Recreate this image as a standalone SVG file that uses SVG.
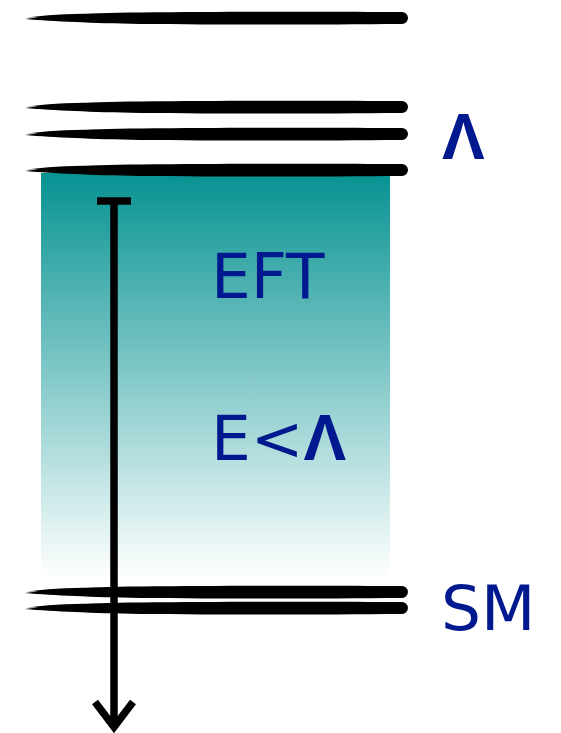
<svg xmlns="http://www.w3.org/2000/svg" width="561" height="733" viewBox="0 0 561 733">
<style>
.lbl{font-family:"DejaVu Sans","Liberation Sans",sans-serif;font-size:63px;fill:#00198f}
.lam{font-family:"Liberation Sans","DejaVu Sans",sans-serif;font-size:64px;font-weight:bold;fill:#00198f}
.conn{stroke:#000;stroke-width:7.5;fill:none}
</style>
<defs>
<linearGradient id="g" x1="0" y1="0" x2="0" y2="1">
<stop offset="0" stop-color="#079292"/>
<stop offset="1" stop-color="#ffffff"/>
</linearGradient>
<path id="brush" d="M25,1 C45,-2 80,-5 140,-5.5 C250,-6.5 330,-6.5 402,-6 A6,6 0 0 1 402,6 C330,6.5 250,7 140,6 C90,5 55,3.5 25,1 Z M27,-0.5 C45,-3 65,-4 95,-4.5 L95,-2 C70,-1.5 50,-1 27,-0.5 Z"/>
</defs>
<rect id="eft-region" x="41" y="173" width="349" height="405" fill="url(#g)"/>
<g id="levels" fill="#000">
<use href="#brush" transform="translate(0,18)"/>
<use href="#brush" transform="translate(0,107)"/>
<use href="#brush" transform="translate(0,134)"/>
<use href="#brush" transform="translate(0,170)"/>
<use href="#brush" transform="translate(0,592)"/>
<use href="#brush" transform="translate(0,608)"/>
</g>
<g id="connectors">
<line class="conn" x1="114" y1="200" x2="114" y2="727"/>
<line class="conn" x1="97" y1="201" x2="131" y2="201"/>
<polyline class="conn" points="95,702 114,727 133,702"/>
</g>
<g id="label-lambda"><text class="lam" x="442" y="159">Λ</text></g>
<g id="label-eft"><text class="lbl" x="211" y="298">EFT</text></g>
<g id="label-e"><text class="lbl" x="211" y="460">E&lt;<tspan class="lam">Λ</tspan></text></g>
<g id="label-sm"><text class="lbl" x="441" y="630">SM</text></g>
</svg>
